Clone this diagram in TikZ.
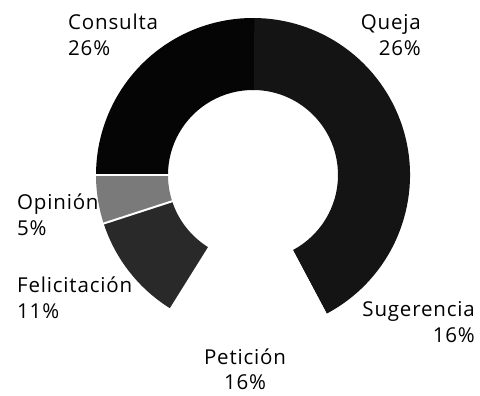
\documentclass[tikz,border=0pt]{standalone}
\usepackage{fontspec}
\setmainfont[LetterSpace=4]{Open Sans}
\begin{document}
\begin{tikzpicture}[x=1pt,y=1pt,
  lbl/.style={inner sep=0pt,font=\fontsize{20.5}{26}\selectfont}]
\useasboundingbox (0,0) rectangle (480,396);
\coordinate (c) at (253,221);
\def\R{157}\def\r{85}
\newcommand\seg[3]{\fill[#3] ([shift={(#1:\R)}]c) arc[start angle=#1,end angle=#2,radius=\R]
  -- ([shift={(#2:\r)}]c) arc[start angle=#2,end angle=#1,radius=\r] -- cycle;}
\seg{89}{180}{black!98}
\seg{-62}{89.5}{black!92}
\seg{-122}{-62}{white}
\seg{-162}{-122}{black!84}
\seg{-180}{-162}{black!52}
\draw[white,line width=1.5pt] ([shift={(180:\r-2)}]c) -- ([shift={(180:\R+2)}]c);
\draw[white,line width=2pt] ([shift={(-162:\r-2)}]c) -- ([shift={(-162:\R+2)}]c);
\node[lbl,anchor=base west] (cons) at (68,366) {Consulta};
\node[lbl,anchor=base west] (consp) at (68,340) {26\%};
\node[lbl,anchor=base east] (quej) at (421,366) {Queja};
\node[lbl,anchor=base east] (quejp) at (421,340) {26\%};
\node[lbl,anchor=base west] (opin) at (17,186) {Opinión};
\node[lbl,anchor=base west] (opinp) at (17,160) {5\%};
\node[lbl,anchor=base west] (feli) at (17,103) {Felicitación};
\node[lbl,anchor=base west] (felip) at (17,77) {11\%};
\node[lbl,anchor=base east] (suge) at (475,79) {Sugerencia};
\node[lbl,anchor=base east] (sugep) at (475,53) {16\%};
\node[lbl,anchor=base] (peti) at (245,31) {Petición};
\node[lbl,anchor=base] (petip) at (245,6) {16\%};
\end{tikzpicture}
\end{document}
